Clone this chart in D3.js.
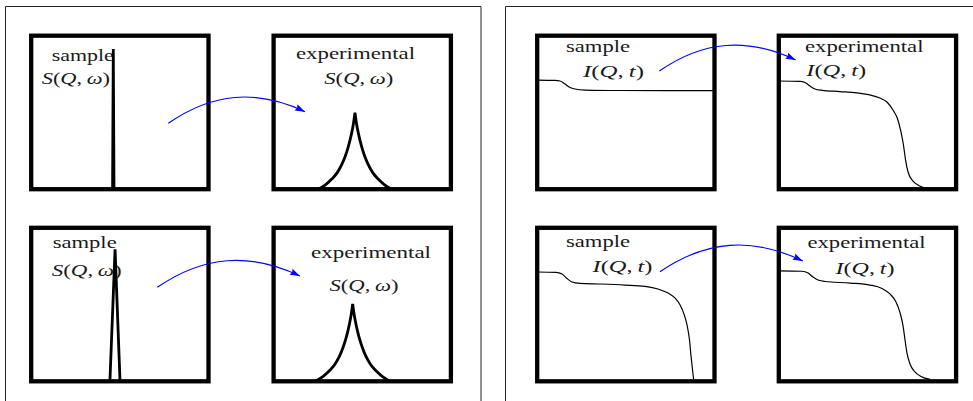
<!DOCTYPE html>
<html>
<head>
<meta charset="utf-8">
<script src="https://cdn.jsdelivr.net/npm/d3@7/dist/d3.min.js"></script>
<style>
  html, body { margin: 0; padding: 0; background: #fff; }
  svg { display: block; }
  text { font-family: "Liberation Serif", "Times New Roman", serif; fill: #1a1a1a; }
</style>
</head>
<body>
<svg id="fig" width="973" height="401"></svg>
<script>
// ---- data (box-local units: x 0..100 across the box, y 0..100 bottom to top) ----
const sampleLabel = "sample";
const expLabel = "experimental";
// math labels as [text, italic]
const sqwParts = [["S", 1], ["(", 0], ["Q", 1], [",\u2009", 0], ["ω", 1], [")", 0]];
const iqtParts = [["I", 1], ["(", 0], ["Q", 1], [",\u2009", 0], ["t", 1], [")", 0]];

// S(Q,ω): sample lines and resolution-broadened peaks
const sqwSampleTop = [[45.9, 0], [46.3, 91.3], [46.7, 0]];
const sqwSampleBottom = [[44.4, 0], [47.3, 86.0], [50.1, 0]];
const sqwExpTop = [[25.2, 0], [29.4, 3.0], [32.8, 6.6], [35.9, 10.8], [38.4, 16.0], [40.4, 21.5], [41.9, 26.8],
                   [43.1, 32.0], [44.1, 37.0], [45.0, 42.5], [45.9, 49.8],
                   [46.8, 42.5], [47.7, 37.0], [48.7, 32.0], [49.9, 26.8], [51.4, 21.5], [53.4, 16.0],
                   [55.9, 10.8], [59.0, 6.6], [62.4, 3.0], [66.6, 0]];
const sqwExpBottom = [[23.4, 0], [27.8, 3.1], [31.3, 6.7], [34.5, 11.0], [37.1, 16.2], [39.1, 21.8], [40.6, 27.1],
                      [41.8, 32.4], [42.8, 37.5], [43.7, 43.0], [44.6, 50.4],
                      [45.5, 43.0], [46.4, 37.5], [47.4, 32.4], [48.6, 27.1], [50.1, 21.8], [52.1, 16.2],
                      [54.7, 11.0], [57.9, 6.7], [61.4, 3.1], [65.7, 0]];

// I(Q,t): sample and measured decays
const iqtSampleTop = [[0, 71.1], [10.0, 70.9], [12.9, 70.5], [15.7, 68.5], [18.5, 66.3], [21.3, 65.3],
                      [27.0, 64.6], [46.7, 64.3], [100, 64.2]];
const iqtExpTop = [[0, 70.5], [12.0, 70.3], [14.8, 69.5], [17.6, 67.2], [20.4, 65.3], [24.4, 64.4], [34.5, 63.6],
                   [44.1, 62.7], [51.4, 61.4], [57.0, 59.4], [61.0, 56.8], [64.4, 51.6], [67.2, 45.1], [68.9, 37.3],
                   [70.3, 28.8], [71.5, 19.0], [72.9, 11.2], [75.7, 5.3], [78.5, 2.7], [81.6, 1.1]];
const iqtSampleBottom = [[0, 71.2], [10.6, 71.0], [14.0, 69.9], [16.8, 67.0], [19.6, 64.7], [24.1, 63.8], [35.4, 63.4],
                         [49.5, 62.7], [60.8, 61.8], [68.1, 60.1], [73.8, 57.5], [77.7, 54.3], [80.6, 49.7],
                         [82.8, 43.8], [84.5, 36.7], [85.9, 26.9], [86.7, 17.1], [87.6, 7.4], [88.2, 1.5]];
const iqtExpBottom = [[0, 71.9], [13.1, 71.7], [16.5, 70.6], [19.3, 67.9], [22.1, 66.0], [26.1, 65.0], [40.2, 64.0],
                      [51.4, 62.7], [58.2, 60.5], [62.7, 56.9], [66.1, 51.7], [68.4, 44.6], [70.1, 36.0],
                      [71.2, 26.9], [72.3, 18.4], [74.0, 11.3], [76.8, 6.1], [80.2, 3.1], [85.3, 1.2]];

// ---- layout ----
const BOX_W = 177.3, BOX_H = 153.5;
const panels = [
  { x: 31.2,  y: 35.7,  kind: "spike", data: sqwSampleTop,
    labels: [{ t: sampleLabel, x: 51.7, y: 61, w: 62 }, { m: sqwParts, x: 41.7, y: 84, w: 68.3 }] },
  { x: 273.6, y: 35.7,  kind: "cusp", data: sqwExpTop,
    labels: [{ t: expLabel, x: 296, y: 59, w: 119 }, { m: sqwParts, x: 324.3, y: 84, w: 69 }] },
  { x: 31.2,  y: 227.8, kind: "spike", data: sqwSampleBottom,
    labels: [{ t: sampleLabel, x: 52.7, y: 247.5, w: 64 }, { m: sqwParts, x: 51.7, y: 275.5, w: 70 }] },
  { x: 273.6, y: 227.8, kind: "cusp", data: sqwExpBottom,
    labels: [{ t: expLabel, x: 311, y: 258.3, w: 120 }, { m: sqwParts, x: 329.5, y: 291, w: 69 }] },
  { x: 537.2, y: 35.7,  kind: "decay", data: iqtSampleTop,
    labels: [{ t: sampleLabel, x: 566, y: 52, w: 64 }, { m: iqtParts, x: 583, y: 76.7, w: 61 }] },
  { x: 778.8, y: 35.7,  kind: "decay", data: iqtExpTop,
    labels: [{ t: expLabel, x: 805, y: 51.7, w: 118.5 }, { m: iqtParts, x: 806.3, y: 76, w: 60 }] },
  { x: 537.2, y: 227.8, kind: "decay", data: iqtSampleBottom,
    labels: [{ t: sampleLabel, x: 566, y: 246.5, w: 64 }, { m: iqtParts, x: 592.5, y: 272, w: 60 }] },
  { x: 778.8, y: 227.8, kind: "decay", data: iqtExpBottom,
    labels: [{ t: expLabel, x: 807.5, y: 247.7, w: 118 }, { m: iqtParts, x: 835.5, y: 273.5, w: 59 }] }
];

const arrows = [
  [[168.3, 123.3], [305, 111.7]],
  [[157.3, 287.3], [300, 276]],
  [[659.3, 71], [795.7, 60]],
  [[660, 271.7], [802.8, 261]]
];

const svg = d3.select("#fig");

// arrowhead marker
svg.append("defs").append("marker")
  .attr("id", "head")
  .attr("viewBox", "-11 -4 12 8")
  .attr("refX", 0).attr("refY", 0)
  .attr("markerWidth", 12).attr("markerHeight", 8)
  .attr("markerUnits", "userSpaceOnUse")
  .attr("orient", "auto")
  .append("path")
  .attr("d", "M0,0 L-10,-3.4 L-8.6,0 L-10,3.4 Z")
  .attr("fill", "#0000ff");

// outer frames (open at the bottom / right edge of the view)
svg.append("path")
  .attr("d", "M5.5,410 L5.5,6.5 L481,6.5 L481,410")
  .attr("fill", "none").attr("stroke", "#222").attr("stroke-width", 1);
svg.append("path")
  .attr("d", "M505.5,410 L505.5,6.5 L990,6.5")
  .attr("fill", "none").attr("stroke", "#222").attr("stroke-width", 1);

panels.forEach(p => {
  const g = svg.append("g");
  const xs = d3.scaleLinear().domain([0, 100]).range([p.x, p.x + BOX_W]);
  const ys = d3.scaleLinear().domain([0, 100]).range([p.y + BOX_H, p.y]);

  // labels
  p.labels.forEach(l => {
    const t = g.append("text")
      .attr("x", l.x).attr("y", l.y)
      .attr("font-size", 17)
      .attr("textLength", l.w)
      .attr("lengthAdjust", "spacingAndGlyphs");
    if (l.t) t.text(l.t);
    else l.m.forEach(([s, it]) => t.append("tspan").attr("font-style", it ? "italic" : "normal").text(s));
  });

  // curve
  if (p.kind === "spike") {
    const line = d3.line().x(d => xs(d[0])).y(d => ys(d[1]));
    g.append("path").attr("d", line(p.data))
      .attr("fill", "none").attr("stroke", "#000").attr("stroke-width", 2.8)
      .attr("stroke-linejoin", "bevel");
  } else if (p.kind === "cusp") {
    const line = d3.line().x(d => xs(d[0])).y(d => ys(d[1])).curve(d3.curveMonotoneX);
    const top = d3.maxIndex(p.data, d => d[1]);
    const left = line(p.data.slice(0, top + 1));
    const right = line(p.data.slice(top)).replace(/^M/, "L");
    g.append("path").attr("d", left + right)
      .attr("fill", "none").attr("stroke", "#000").attr("stroke-width", 2.8)
      .attr("stroke-linejoin", "miter").attr("stroke-miterlimit", 4);
  } else {
    const line = d3.line().x(d => xs(d[0])).y(d => ys(d[1])).curve(d3.curveMonotoneX);
    g.append("path").attr("d", line(p.data))
      .attr("fill", "none").attr("stroke", "#000").attr("stroke-width", 1.2);
  }

  // box
  g.append("rect")
    .attr("x", xs(0)).attr("y", ys(100))
    .attr("width", BOX_W).attr("height", BOX_H)
    .attr("fill", "none").attr("stroke", "#000").attr("stroke-width", 4.3);
});

// bent arrows between sample and experimental boxes
arrows.forEach(([s, e]) => {
  const dx = e[0] - s[0], dy = e[1] - s[1];
  const L = Math.hypot(dx, dy), a = Math.atan2(dy, dx), k = 0.3915 * L, b = Math.PI / 6;
  const c1 = [s[0] + k * Math.cos(a - b), s[1] + k * Math.sin(a - b)];
  const c2 = [e[0] - k * Math.cos(a + b), e[1] - k * Math.sin(a + b)];
  const p = d3.path();
  p.moveTo(s[0], s[1]);
  p.bezierCurveTo(c1[0], c1[1], c2[0], c2[1], e[0], e[1]);
  svg.append("path").attr("d", p.toString())
    .attr("fill", "none").attr("stroke", "#0000ff").attr("stroke-width", 1.1)
    .attr("marker-end", "url(#head)");
});
</script>
</body>
</html>
